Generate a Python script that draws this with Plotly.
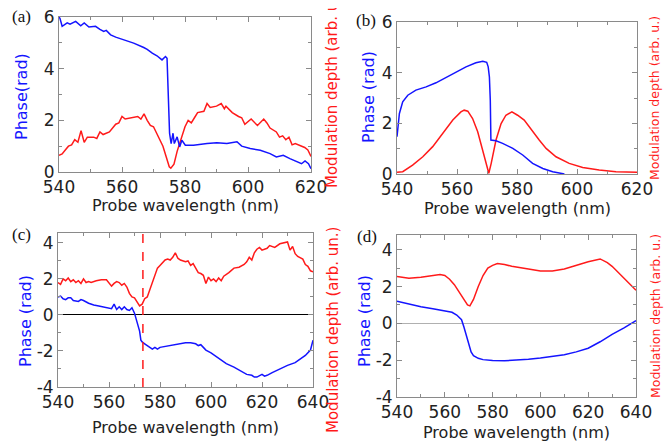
import plotly.graph_objects as go

# ---------------- data ----------------
# (a) measured, 540-620 nm
a_wl_phase = [540, 540.3, 541, 542.6, 543.5, 545.3, 546.9, 548, 549.5, 551.6, 553, 554.2, 555, 556.4, 558, 560.6,
              563.7, 566.9, 568, 569.6, 571.1, 572.7, 573.8, 574.3, 575.1, 575.6, 576.2, 576.6, 577.5, 578.3,
              579, 580.1, 582.7, 587, 590.1, 593.3, 596.5, 598, 600.7, 603.9, 607, 609, 611.2, 613.3, 615.5,
              617, 618.1, 619.2, 620]
a_phase = [6.0, 5.95, 5.64, 5.77, 5.72, 5.83, 5.66, 5.77, 5.61, 5.64, 5.52, 5.44, 5.48, 5.31, 5.22, 5.12,
           4.99, 4.82, 4.75, 4.6, 4.5, 4.34, 4.47, 4.4, 1.5, 1.1, 1.5, 1.1, 1.36, 0.97,
           1.23, 1.04, 1.04, 1.1, 1.13, 1.1, 1.17, 1.0, 0.91, 0.84, 0.71, 0.58, 0.65, 0.52, 0.39,
           0.32, 0.43, 0.32, 0.13]
a_wl_mod = [540, 541, 542, 543, 544, 545, 546, 547, 548, 549, 551, 552, 553, 554, 556, 557, 558, 559, 560, 561,
            563, 565, 566, 567, 568, 569, 570, 571, 572, 573, 574, 575, 575.5, 576.5, 577.5, 578.5, 579.5, 580,
            581, 582, 583, 584, 586, 587, 588, 590, 591.5, 592.5, 593, 595, 597, 598, 599, 601, 603, 605, 606,
            607, 609, 610, 611, 612, 613, 614, 615, 617, 618, 619, 620]
a_mod = [0.65, 0.7, 0.85, 1.0, 1.05, 1.25, 1.15, 1.6, 1.15, 1.35, 1.35, 1.3, 1.55, 1.45, 1.55, 1.7, 1.85, 1.9, 2.15, 2.05,
         2.1, 2.15, 2.05, 2.25, 2.0, 1.8, 1.75, 1.5, 1.3, 1.0, 0.6, 0.2, 0.15, 0.3, 0.8, 1.2, 1.6, 1.75,
         2.0, 1.9, 2.1, 2.3, 2.35, 2.65, 2.5, 2.55, 2.65, 2.45, 2.55, 2.3, 2.15, 2.1, 1.85, 2.05, 1.8, 2.05, 1.9,
         1.7, 1.55, 1.35, 1.4, 1.25, 1.35, 1.05, 1.1, 1.0, 0.95, 0.85, 0.6]

# (b) simulated, 540-620 nm
b_wl_phase = [540, 540.8, 541.9, 543.6, 546.3, 549.7, 553, 556.3, 559.7, 563, 566.3, 568.6, 569.9, 570.4, 570.8,
              571.1, 571.3, 573, 575.2, 578.6, 581.9, 585.2, 588.6, 591.9, 595.8]
b_phase = [1.47, 2.39, 2.85, 3.11, 3.31, 3.44, 3.6, 3.8, 4.03, 4.23, 4.39, 4.45, 4.41, 4.23, 3.83,
           2.91, 1.34, 1.31, 1.21, 1.01, 0.75, 0.42, 0.22, 0.09, 0.0]
b_wl_mod = [540, 541.9, 545.2, 548.6, 551.9, 555.2, 558.6, 561.3, 562.4, 563.6, 565.2, 566.9, 568.6, 569.7, 570.6,
            571.4, 573, 574.7, 576.3, 578.3, 580.2, 582.4, 585.2, 587.4, 589.7, 593, 597.4, 601.9, 607.4, 613, 620]
b_mod = [0.07, 0.09, 0.35, 0.68, 1.08, 1.6, 2.13, 2.45, 2.52, 2.48, 2.19, 1.67, 0.94, 0.42, 0.03,
         0.42, 1.34, 1.99, 2.32, 2.45, 2.32, 2.13, 1.67, 1.34, 1.01, 0.68, 0.42, 0.26, 0.16, 0.09, 0.07]

# (c) measured, 540-640 nm
c_wl_phase = [540, 541, 542, 543, 544, 545, 546, 548, 549, 550, 552, 554, 556, 558, 560, 561, 562, 563, 564, 565,
              566, 567, 568, 569, 570, 571, 572, 572.5, 573, 574, 575, 576, 577, 578, 579, 580, 582, 585, 588,
              590, 592, 594, 595, 596, 597, 598, 600, 603, 606, 609, 612, 614, 616, 617, 618, 619, 620, 621,
              622, 624, 627, 630, 633, 635, 637, 639, 640]
c_phase = [1.0, 1.05, 0.9, 0.85, 0.95, 0.95, 0.8, 0.75, 0.85, 0.8, 0.65, 0.55, 0.5, 0.45, 0.4, 0.35, 0.6, 0.3, 0.45, 0.3,
           0.45, 0.3, 0.25, 0.4, 0.1, -0.4, -0.9, -1.4, -1.5, -1.6, -1.7, -1.8, -1.9, -1.8, -1.9, -1.8, -1.75, -1.7, -1.6,
           -1.55, -1.55, -1.6, -1.7, -1.65, -1.8, -1.95, -2.1, -2.4, -2.7, -2.9, -3.15, -3.3, -3.35, -3.45, -3.45, -3.35, -3.3, -3.4,
           -3.35, -3.2, -3.0, -2.8, -2.65, -2.45, -2.25, -1.95, -1.4]
c_wl_mod = [540, 541, 542, 543, 544, 545, 546, 547, 548, 549, 550, 551, 552, 553, 555, 557, 559, 560, 561, 562,
            563, 564, 565, 566, 567, 568, 569, 570, 571, 572, 573, 574, 575, 576, 577, 578, 579, 580, 581, 582,
            583, 584, 585, 586, 587, 588, 590, 591, 592, 593, 594, 595, 596, 597, 598, 599, 600, 601, 602, 603,
            604, 605, 607, 609, 611, 613, 614, 615, 616, 617, 618, 619, 620, 622, 623, 625, 627, 629, 630, 631,
            632, 633, 634, 636, 637, 638, 639, 640]
c_mod = [1.8, 1.7, 2.0, 1.9, 2.05, 1.85, 1.95, 1.8, 1.9, 1.75, 2.0, 1.8, 1.85, 1.8, 1.9, 1.95, 1.95, 1.8, 1.6, 1.75,
         1.85, 1.8, 1.65, 1.75, 1.55, 1.2, 1.0, 0.95, 0.7, 0.5, 0.6, 0.9, 1.0, 1.4, 1.8, 2.2, 2.6, 2.75, 2.9, 3.05,
         3.1, 3.05, 3.2, 3.45, 3.15, 3.05, 2.95, 3.0, 2.75, 2.85, 2.6, 2.35, 2.3, 2.2, 1.75, 2.1, 1.9, 2.0, 1.85, 2.05,
         1.9, 2.15, 2.35, 2.6, 2.65, 2.8, 2.95, 3.2, 3.05, 3.45, 3.65, 3.75, 3.6, 3.7, 3.85, 3.75, 3.95, 4.0, 4.05, 3.6,
         3.8, 3.4, 3.25, 3.1, 2.8, 2.7, 2.45, 2.4]
c_marker_wl = 573.3

# (d) simulated, 540-640 nm
d_wl_phase = [540, 545, 550, 555, 560, 563, 565, 567, 568, 569, 570, 571, 572, 574, 576, 580, 585, 590, 595, 600,
              605, 610, 615, 620, 625, 630, 635, 640]
d_phase = [1.2, 1.05, 0.9, 0.8, 0.7, 0.6, 0.45, 0.2, -0.2, -0.7, -1.2, -1.55, -1.75, -1.9, -1.97, -2.02, -2.03, -2.0,
           -1.95, -1.88, -1.8, -1.7, -1.55, -1.35, -1.0, -0.6, -0.25, 0.15]
d_wl_mod = [540, 545, 550, 555, 558, 560, 562, 564, 566, 568, 569.5, 570.5, 572, 574, 576, 578, 580, 582, 585, 588,
            590, 595, 600, 605, 610, 615, 620, 625, 628, 630, 633, 636, 640]
d_mod = [2.55, 2.45, 2.5, 2.6, 2.65, 2.6, 2.4, 2.1, 1.7, 1.3, 1.0, 0.95, 1.3, 2.0, 2.6, 3.0, 3.15, 3.25, 3.2, 3.1,
         3.05, 2.95, 2.85, 2.85, 2.95, 3.15, 3.35, 3.5, 3.3, 3.1, 2.7, 2.35, 1.8]

x_ticks_ab = [540, 560, 580, 600, 620]
x_ticks_cd = [540, 560, 580, 600, 620, 640]
y_ticks_ab = [0, 2, 4, 6]
y_ticks_cd = [-4, -2, 0, 2, 4]
y_text_cd = ["-4", "-2", "0", "2", "4"]

panel_labels = ["(a)", "(b)", "(c)", "(d)"]
phase_titles = ["Phase(rad)", "Phase (rad)", "Phase (rad)", "Phase (rad)"]
mod_titles = ["Modulation depth (arb. u.)", "Modulation depth (arb. u.)",
              "Modulation depth (arb. un.)", "Modulation depth (arb. u.)"]
x_title = "Probe wavelength (nm)"

BLUE = "#1414ff"
RED = "#ff1a1a"
W, H = 672, 442
OFF = 8  # page body margin of the browser

fig = go.Figure()

series = [
    (a_wl_phase, a_phase, a_wl_mod, a_mod, "x", "y"),
    (b_wl_phase, b_phase, b_wl_mod, b_mod, "x2", "y2"),
    (c_wl_phase, c_phase, c_wl_mod, c_mod, "x3", "y3"),
    (d_wl_phase, d_phase, d_wl_mod, d_mod, "x4", "y4"),
]
for wp, ph, wm, md, xa, ya in series:
    fig.add_trace(go.Scatter(x=wm, y=md, xaxis=xa, yaxis=ya, mode="lines",
                             line=dict(color=RED, width=1.5), showlegend=False))
    fig.add_trace(go.Scatter(x=wp, y=ph, xaxis=xa, yaxis=ya, mode="lines",
                             line=dict(color=BLUE, width=1.5), showlegend=False))

# dashed marker line in (c)
fig.add_trace(go.Scatter(x=[c_marker_wl, c_marker_wl], y=[-4, 4.55], xaxis="x3", yaxis="y3", mode="lines",
                         line=dict(color=RED, width=1.5, dash="dash"), showlegend=False))


def px_x(p):
    return (p - OFF) / W


def px_y(p):
    return 1 - (p - OFF) / H


AX = "#8a8a8a"
TF = dict(family="DejaVu Sans", size=17, color="#222222")


def xaxis(dom, rng, ticks, anchor):
    return dict(domain=dom, range=rng, anchor=anchor, tickmode="array", tickvals=ticks,
                showline=True, mirror="ticks", linecolor=AX, linewidth=1, ticks="inside", ticklen=5,
                tickcolor=AX, minor=dict(ticks="inside", dtick=10, ticklen=3, tickcolor=AX),
                showgrid=False, zeroline=False, tickfont=TF, fixedrange=True, automargin=False,
                ticklabeloverflow="allow")


def yaxis(dom, rng, ticks, text, anchor, zl=None):
    d = dict(domain=dom, range=rng, anchor=anchor, tickmode="array", tickvals=ticks,
             showline=True, mirror="ticks", linecolor=AX, linewidth=1, ticks="inside", ticklen=5,
             tickcolor=AX, minor=dict(ticks="inside", dtick=1, ticklen=3, tickcolor=AX),
             showgrid=False, zeroline=False, tickfont=TF, fixedrange=True, automargin=False,
             ticklabeloverflow="allow")
    if text is not None:
        d["ticktext"] = text
    if zl:
        d.update(zeroline=True, zerolinecolor=zl, zerolinewidth=1)
    return d


# pixel boxes (page coordinates): left, right, top, bottom
boxes = [(59, 311, 17, 172), (397, 637, 22, 174), (58, 313, 233, 387), (397, 636, 235, 397)]
doms = [([px_x(l), px_x(r)], [px_y(b), px_y(t)]) for l, r, t, b in boxes]

fig.update_layout(
    width=W, height=H, margin=dict(l=0, r=0, t=0, b=0, autoexpand=False),
    paper_bgcolor="white", plot_bgcolor="white",
    xaxis=xaxis(doms[0][0], [540, 620], x_ticks_ab, "y"),
    yaxis=yaxis(doms[0][1], [0, 6], y_ticks_ab, None, "x"),
    xaxis2=xaxis(doms[1][0], [540, 620], x_ticks_ab, "y2"),
    yaxis2=yaxis(doms[1][1], [0, 6], y_ticks_ab, None, "x2"),
    xaxis3=xaxis(doms[2][0], [540, 640], x_ticks_cd, "y3"),
    yaxis3=yaxis(doms[2][1], [-4, 4.55], y_ticks_cd, y_text_cd, "x3", zl="#000000"),
    xaxis4=xaxis(doms[3][0], [540, 640], x_ticks_cd, "y4"),
    yaxis4=yaxis(doms[3][1], [-4, 4.8], y_ticks_cd, y_text_cd, "x4", zl="#b0b0b0"),
)


def note(txt, x, y, size, color, family="DejaVu Sans", angle=0):
    return dict(text=txt, x=px_x(x), y=px_y(y), xref="paper", yref="paper", showarrow=False,
                xanchor="center", yanchor="middle", textangle=angle,
                font=dict(family=family, size=size, color=color))


ann = []
for txt, (x, y) in zip(panel_labels, [(21, 16), (366, 20), (21, 235), (367, 236)]):
    ann.append(note(txt, x, y, 17, "#111111", family="Liberation Serif"))
for x, y in [(185, 205), (517, 209), (185, 427), (516, 432)]:
    ann.append(note(x_title, x, y, 16, "#222222"))
for txt, (x, y) in zip(phase_titles, [(22, 97), (369, 97), (25, 321), (364, 321)]):
    ann.append(note(txt, x, y, 16, BLUE, angle=-90))
for txt, (x, y), fs in zip(mod_titles, [(332, 90), (655, 98), (333, 330), (655, 316)], [15, 12.5, 15, 12.5]):
    ann.append(note(txt, x, y, fs, RED, angle=-90))
fig.update_layout(annotations=ann)

fig.write_html("out.html")
